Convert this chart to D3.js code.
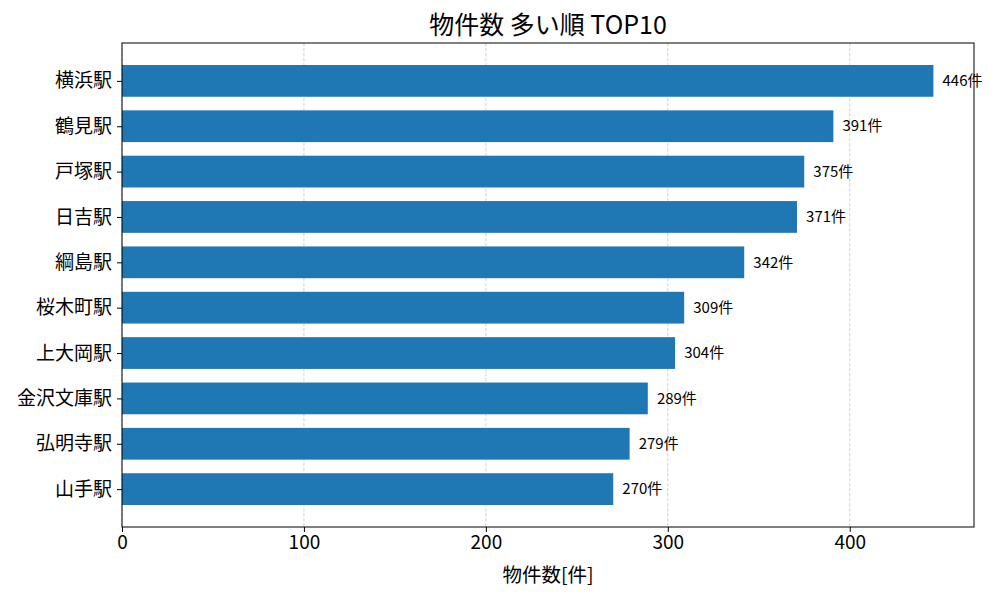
<!DOCTYPE html>
<html>
<head>
<meta charset="utf-8">
<script src="https://cdn.jsdelivr.net/npm/d3@7"></script>
<style>
  body { margin: 0; background: #fff; }
  svg text { font-family: "Noto Sans CJK JP", "Noto Sans", sans-serif; }
</style>
</head>
<body>
<svg width="1000" height="600"></svg>
<script>
// data
var stations = ["横浜駅", "鶴見駅", "戸塚駅", "日吉駅", "綱島駅", "桜木町駅", "上大岡駅", "金沢文庫駅", "弘明寺駅", "山手駅"];
var counts = [446, 391, 375, 371, 342, 309, 304, 289, 279, 270];
var xTicks = [0, 100, 200, 300, 400];

var margin = {left: 122, right: 26, top: 43, bottom: 73};
var width = 1000 - margin.left - margin.right;
var height = 600 - margin.top - margin.bottom;

var svg = d3.select("svg");
var g = svg.append("g").attr("transform", "translate(" + margin.left + "," + margin.top + ")");

// matplotlib style padding (5%)
var xMax = d3.max(counts) * 1.05;
var x = d3.scaleLinear().domain([0, xMax]).range([0, width]);

var n = stations.length;
var barH = 0.7;
var pad = 0.05 * (n - 1 + barH);
var y = d3.scaleLinear()
    .domain([-barH / 2 - pad, n - 1 + barH / 2 + pad])
    .range([0, height]);

// grid
g.selectAll("line.grid")
    .data(xTicks)
    .enter()
    .append("line")
    .attr("class", "grid")
    .attr("x1", d => x(d))
    .attr("x2", d => x(d))
    .attr("y1", 0)
    .attr("y2", height)
    .attr("stroke", "#b0b0b0")
    .attr("stroke-opacity", 0.7)
    .attr("stroke-width", 0.8)
    .attr("stroke-dasharray", "3.5,1.5");

// bars
g.selectAll("rect.bar")
    .data(counts)
    .enter()
    .append("rect")
    .attr("class", "bar")
    .attr("x", x(0))
    .attr("y", (d, i) => y(i - barH / 2))
    .attr("width", d => x(d) - x(0))
    .attr("height", y(barH) - y(0))
    .attr("fill", "#1f77b4");

// value labels
g.selectAll("text.val")
    .data(counts)
    .enter()
    .append("text")
    .attr("class", "val")
    .attr("x", d => x(d + 5))
    .attr("y", (d, i) => y(i))
    .attr("dy", "0.35em")
    .attr("font-size", "15px")
    .attr("fill", "#000")
    .text(d => d + "件");

// frame
g.append("rect")
    .attr("width", width)
    .attr("height", height)
    .attr("fill", "none")
    .attr("stroke", "#000")
    .attr("stroke-width", 1);

// x axis
var xAxis = g.append("g")
    .attr("transform", "translate(0," + height + ")")
    .call(d3.axisBottom(x).tickValues(xTicks).tickSize(5).tickPadding(4).tickFormat(d3.format("d")));
xAxis.select(".domain").remove();
xAxis.selectAll("text").attr("font-size", "19px").attr("fill", "#000");
xAxis.selectAll("line").attr("stroke", "#000");

// y axis
var yAxis = g.append("g")
    .call(d3.axisLeft(y).tickValues(d3.range(n)).tickSize(5).tickPadding(5).tickFormat(i => stations[i]));
yAxis.select(".domain").remove();
yAxis.selectAll("text").attr("font-size", "19px").attr("fill", "#000");
yAxis.selectAll("line").attr("stroke", "#000");

// title
svg.append("text")
    .attr("x", margin.left + width / 2)
    .attr("y", 34)
    .attr("text-anchor", "middle")
    .attr("font-size", "25px")
    .attr("fill", "#000")
    .text("物件数 多い順 TOP10");

// x label
svg.append("text")
    .attr("x", margin.left + width / 2)
    .attr("y", 582)
    .attr("text-anchor", "middle")
    .attr("font-size", "19.5px")
    .attr("fill", "#000")
    .text("物件数[件]");
</script>
</body>
</html>
